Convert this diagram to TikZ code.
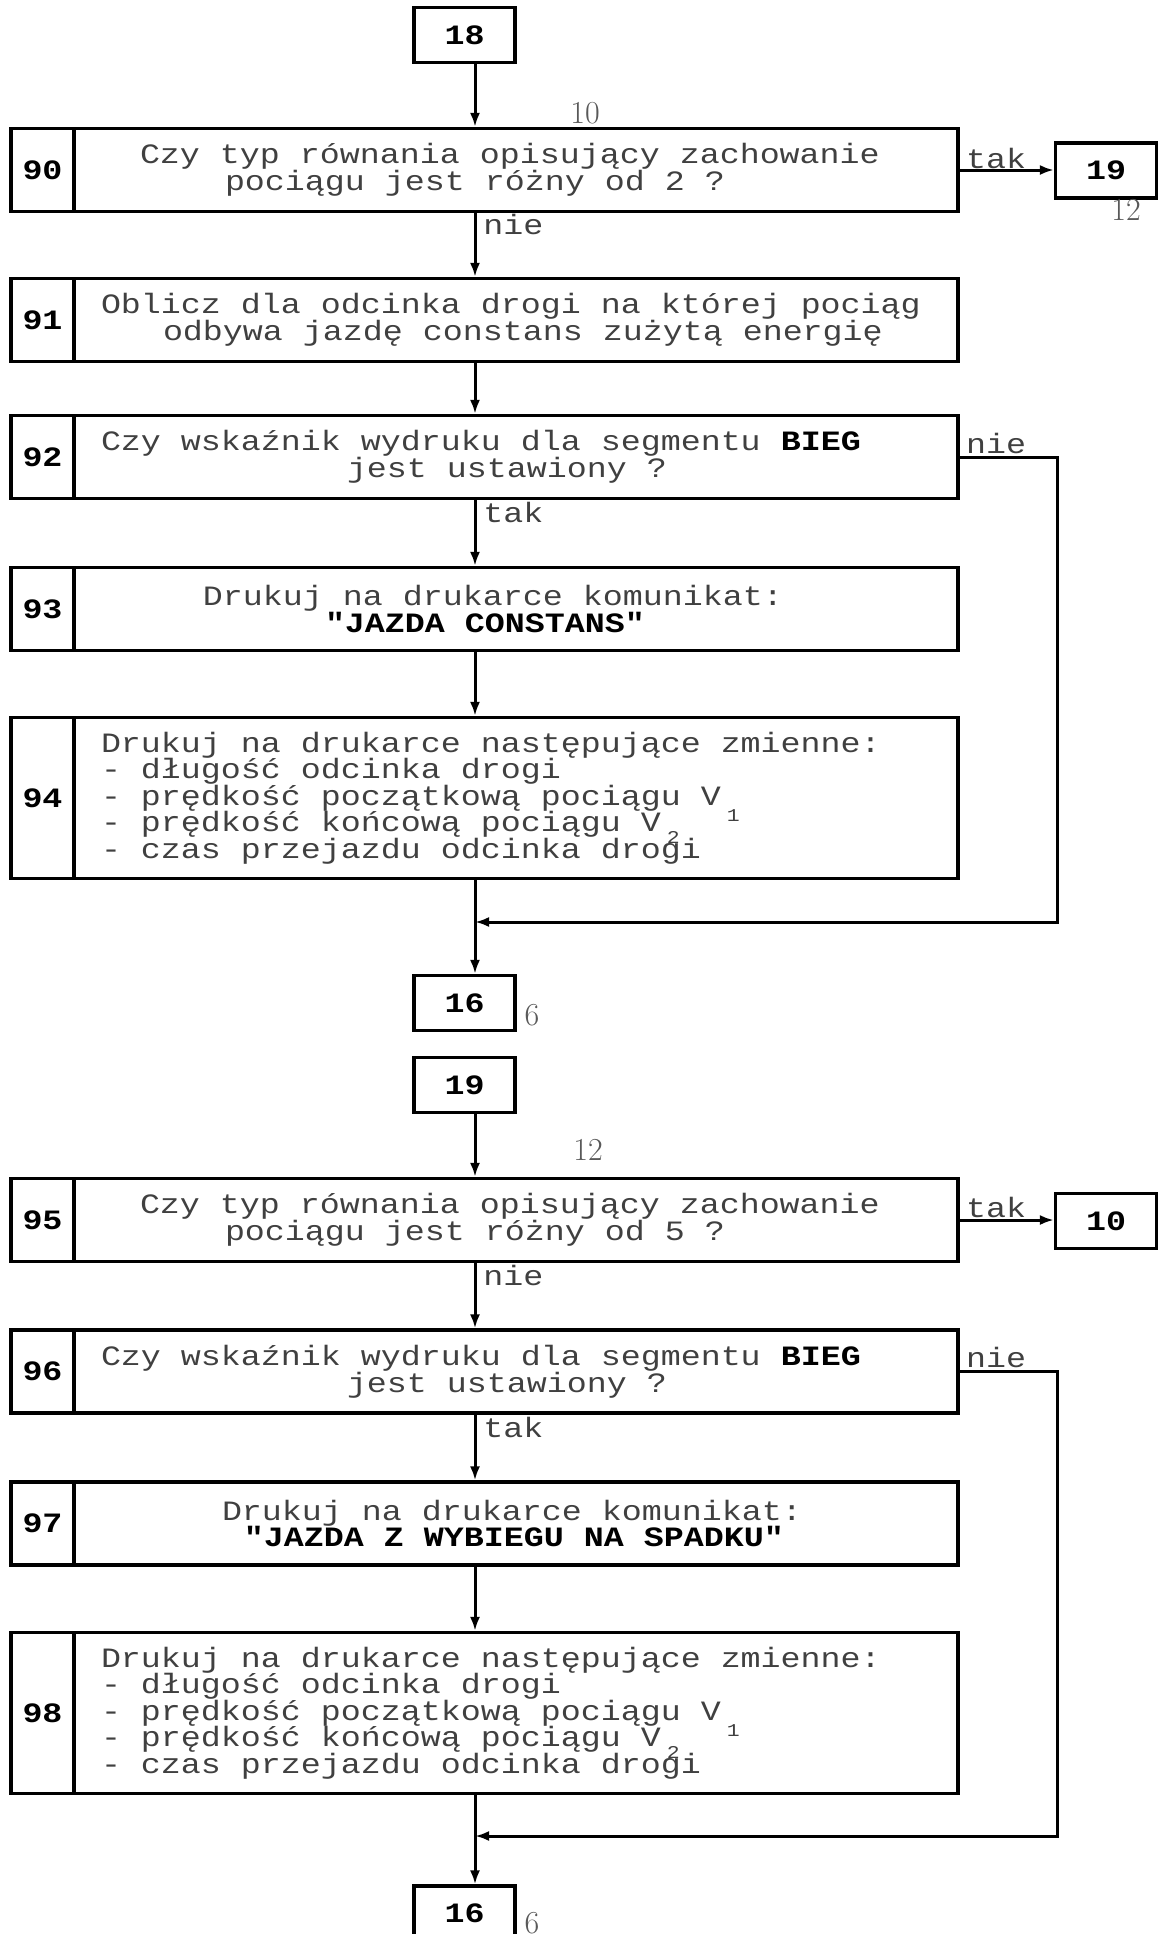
\documentclass[tikz,border=0pt]{standalone}
\usepackage{fontspec}
\usetikzlibrary{arrows.meta}
% dot-matrix look: monospaced face widened to a 10pt character pitch
\newfontfamily\dotfont[FakeStretch=1.19]{Liberation Mono}
% word spaces as wide as one character cell
\newcommand\cellspace{\fontdimen2\font=10pt\fontdimen3\font=0pt\fontdimen4\font=0pt
  \spaceskip=10pt\relax\xspaceskip=10pt\relax}
\newcommand\mainfnt{\dotfont\fontsize{14}{13.25}\selectfont\cellspace\lineskiplimit=-\maxdimen}
\newcommand\boldfnt{\dotfont\bfseries\fontsize{14}{14}\selectfont}
\newcommand\bld[1]{{\bfseries\cellspace\color{black}#1}}
% typewriter indentation of a line
\newcommand\ind[1]{\hspace*{#1pt}}
% lowered index after a variable name
\newcommand\vsub[2]{\rlap{\raisebox{-#1}{\kern3pt\fontsize{9}{9}\selectfont #2}}}
\tikzset{
  arr/.style={line width=1.5pt,-{Latex[length=7pt,width=5pt]}},
  cell/.style={draw,line width=1.6pt,minimum width=31.5pt,inner sep=0pt,font=\boldfnt},
  body/.style={draw,line width=1.6pt,text width=415pt,inner xsep=13.5pt,inner ysep=0pt,
               align=left,font=\mainfnt,text=black!75},
  short/.style={minimum height=41.5pt},
  long/.style={minimum height=80.5pt},
  conn/.style={draw,line width=1.6pt,minimum width=50.5pt,minimum height=27.5pt,
               inner sep=0pt,font=\boldfnt},
  lab/.style={font=\mainfnt,text=black!75,inner sep=0pt},
  hand/.style={font=\fontsize{16}{16}\selectfont,text=black!65,inner sep=0pt},
}
\begin{document}
\begin{tikzpicture}[x=0.5pt,y=-0.5pt]
\clip (0,0) rectangle (1159,1934);
\coordinate (spine) at (475,0);

% ---------- upper sheet: segment 18 ----------
\node[conn] (n18) at (464.5,35) {18};

\node[cell,short] (c90) at (42.5,170) {90};
\node[body,short] (t90) at (516,170) {\cellspace\ind{19.5}Czy typ równania opisujący zachowanie\\\ind{62}pociągu jest różny od 2 ?};
\node[conn] (n19a) at (1106,170.5) {19};
\node[hand] (l10) at (585,113) {10};
\node[hand] (l12a) at (1126,210) {12};
\node[lab] (tak1) at (996,158) {tak};
\node[lab,anchor=west] (nie1) at (483,224) {nie};

\node[cell,short] (c91) at (42.5,320) {91};
\node[body,short] (t91) at (516,320) {\cellspace Oblicz dla odcinka drogi na której pociąg\\\ind{31}odbywa jazdę constans zużytą energię};

\node[cell,short] (c92) at (42.5,457) {92};
\node[body,short] (t92) at (516,457) {\cellspace Czy wskaźnik wydruku dla segmentu \bld{BIEG}\\\ind{123}jest ustawiony ?};
\node[lab] (nie2) at (996,443) {nie};
\node[lab,anchor=west] (tak2) at (483,512) {tak};

\node[cell,short] (c93) at (42.5,609) {93};
\node[body,short] (t93) at (516,609) {\cellspace\ind{51}Drukuj na drukarce komunikat:\\\ind{112}\bld{"JAZDA CONSTANS"}};

\node[cell,long] (c94) at (42.5,798) {94};
\node[body,long] (t94) at (516,798) {\cellspace Drukuj na drukarce następujące zmienne:\\- długość odcinka drogi\\- prędkość początkową pociągu V\vsub{8pt}{1}\\- prędkość końcową pociągu V\vsub{6pt}{2}\\- czas przejazdu odcinka drogi};

\coordinate (ret1) at (1057,922);
\node[conn] (n16a) at (464.5,1003) {16};
\node[hand] (l6a) at (532,1015) {6};

\draw[arr] (n18.south -| spine) -- (t90.north -| spine);
\draw[arr] (t90.east) -- (t90.east -| n19a.west);
\draw[arr] (t90.south -| spine) -- (t91.north -| spine);
\draw[arr] (t91.south -| spine) -- (t92.north -| spine);
\draw[arr] (t92.south -| spine) -- (t93.north -| spine);
\draw[arr] (t93.south -| spine) -- (t94.north -| spine);
\draw[arr] (t94.south -| spine) -- (n16a.north -| spine);
\draw[arr] (t92.east) -- (t92.east -| ret1) -- (ret1) -- (ret1 -| spine);

% ---------- lower sheet: segment 19 ----------
\node[conn] (n19b) at (464.5,1085) {19};
\node[hand] (l12b) at (588,1150) {12};

\node[cell,short] (c95) at (42.5,1220) {95};
\node[body,short] (t95) at (516,1220) {\cellspace\ind{19.5}Czy typ równania opisujący zachowanie\\\ind{62}pociągu jest różny od 5 ?};
\node[conn] (n10) at (1106,1221) {10};
\node[lab] (tak3) at (996,1207) {tak};
\node[lab,anchor=west] (nie3) at (483,1275) {nie};

\node[cell,short] (c96) at (42.5,1371.5) {96};
\node[body,short] (t96) at (516,1371.5) {\cellspace Czy wskaźnik wydruku dla segmentu \bld{BIEG}\\\ind{123}jest ustawiony ?};
\node[lab] (nie4) at (996,1357) {nie};
\node[lab,anchor=west] (tak4) at (483,1427) {tak};

\node[cell,short] (c97) at (42.5,1523.5) {97};
\node[body,short] (t97) at (516,1523.5) {\cellspace\ind{60.5}Drukuj na drukarce komunikat:\\\ind{71.5}\bld{"JAZDA Z WYBIEGU NA SPADKU"}};

\node[cell,long] (c98) at (42.5,1713) {98};
\node[body,long] (t98) at (516,1713) {\cellspace Drukuj na drukarce następujące zmienne:\\- długość odcinka drogi\\- prędkość początkową pociągu V\vsub{8pt}{1}\\- prędkość końcową pociągu V\vsub{6pt}{2}\\- czas przejazdu odcinka drogi};

\coordinate (ret2) at (1057,1836);
\node[conn] (n16b) at (464.5,1913.5) {16};
\node[hand] (l6b) at (532,1923) {6};

\draw[arr] (n19b.south -| spine) -- (t95.north -| spine);
\draw[arr] (t95.east) -- (t95.east -| n10.west);
\draw[arr] (t95.south -| spine) -- (t96.north -| spine);
\draw[arr] (t96.south -| spine) -- (t97.north -| spine);
\draw[arr] (t97.south -| spine) -- (t98.north -| spine);
\draw[arr] (t98.south -| spine) -- (n16b.north -| spine);
\draw[arr] (t96.east) -- (t96.east -| ret2) -- (ret2) -- (ret2 -| spine);
\end{tikzpicture}
\end{document}
